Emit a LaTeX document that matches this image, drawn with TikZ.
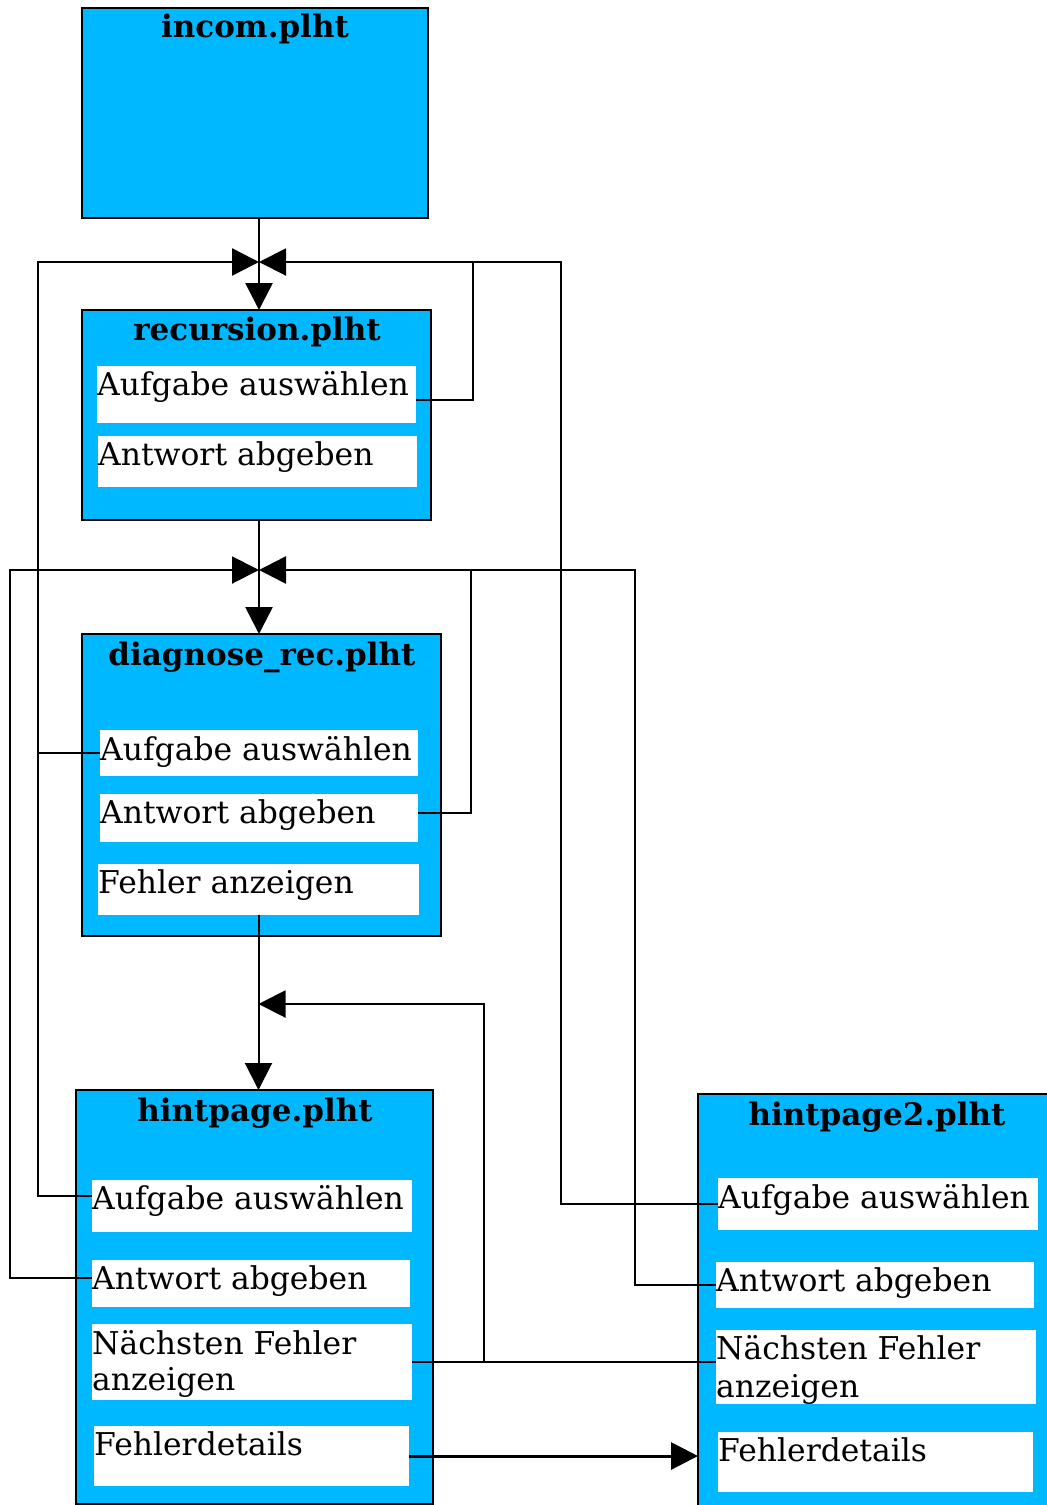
\documentclass[tikz,border=0pt]{standalone}
\usepackage{fontspec}
\setmainfont{DejaVu Serif}
\usetikzlibrary{arrows.meta,calc}
\definecolor{pageblue}{RGB}{0,184,255}
\tikzset{
  pagebox/.style={draw=black,line width=1.6pt,fill=pageblue,anchor=north west,inner sep=0pt,outer sep=0pt},
  itembox/.style={fill=white,anchor=north west,inner sep=0pt,outer sep=0pt},
  itemtext/.style={anchor=base west,inner sep=0pt,font=\fontsize{31.4}{37}\selectfont},
  titletext/.style={anchor=base,inner sep=0pt,font=\fontsize{31}{37}\selectfont\bfseries},
  conn/.style={line width=2.6pt},
  thin/.style={line width=2pt},
  arr/.style={-{Triangle[length=27pt,width=27pt]}},
}
\begin{document}
\begin{tikzpicture}[x=1pt,y=-1pt]
\useasboundingbox (0,0) rectangle (1047,1505);
% page boxes
\node[pagebox,minimum width=346pt,minimum height=210pt] (incom) at (82,8) {};
\node[pagebox,minimum width=349pt,minimum height=210pt] (rec) at (82,310) {};
\node[pagebox,minimum width=359pt,minimum height=302pt] (diag) at (82,634) {};
\node[pagebox,minimum width=357pt,minimum height=414pt] (hint) at (76,1090) {};
\node[pagebox,minimum width=370pt,minimum height=430pt] (hinttwo) at (698,1094) {};
% titles
\node[titletext] (tincom) at (255,37) {incom.plht};
\node[titletext] (trec) at (257,340) {recursion.plht};
\node[titletext] (tdiag) at (262,665) {diagnose\_rec.plht};
\node[titletext] (thint) at (255,1121) {hintpage.plht};
\node[titletext] (thinttwo) at (877,1125) {hintpage2.plht};
% white items
\node[itembox,minimum width=319pt,minimum height=57pt] (recA) at (97,366) {};
\node[itembox,minimum width=319pt,minimum height=51pt] (recB) at (98,436) {};
\node[itembox,minimum width=318pt,minimum height=46pt] (dgA) at (100,730) {};
\node[itembox,minimum width=318pt,minimum height=48pt] (dgB) at (100,794) {};
\node[itembox,minimum width=321pt,minimum height=51pt] (dgC) at (98,864) {};
\node[itembox,minimum width=320pt,minimum height=52pt] (hA) at (92,1180) {};
\node[itembox,minimum width=318pt,minimum height=47pt] (hB) at (92,1260) {};
\node[itembox,minimum width=320pt,minimum height=76pt] (hC) at (92,1324) {};
\node[itembox,minimum width=315pt,minimum height=60pt] (hD) at (94,1426) {};
\node[itembox,minimum width=320pt,minimum height=52pt] (htA) at (718,1178) {};
\node[itembox,minimum width=318pt,minimum height=46pt] (htB) at (716,1262) {};
\node[itembox,minimum width=320pt,minimum height=74pt] (htC) at (716,1330) {};
\node[itembox,minimum width=315pt,minimum height=60pt] (htD) at (718,1432) {};
% item texts
\node[itemtext] (trecA) at (97,395) {Aufgabe auswählen};
\node[itemtext] (trecB) at (98,465) {Antwort abgeben};
\node[itemtext] (tdgA) at (100,760) {Aufgabe auswählen};
\node[itemtext] (tdgB) at (100,823) {Antwort abgeben};
\node[itemtext] (tdgC) at (98,893) {Fehler anzeigen};
\node[itemtext] (thA) at (92,1209) {Aufgabe auswählen};
\node[itemtext] (thB) at (92,1289) {Antwort abgeben};
\node[itemtext] (thC) at (92,1354) {\vtop{\baselineskip=36pt\hbox{Nächsten Fehler}\hbox{anzeigen}}};
\node[itemtext] (thD) at (94,1455) {Fehlerdetails};
\node[itemtext] (thtA) at (718,1208) {Aufgabe auswählen};
\node[itemtext] (thtB) at (716,1291) {Antwort abgeben};
\node[itemtext] (thtC) at (716,1359) {\vtop{\baselineskip=38pt\hbox{Nächsten Fehler}\hbox{anzeigen}}};
\node[itemtext] (thtD) at (718,1461) {Fehlerdetails};
% junctions and corners
\coordinate (J1) at (259,262);
\coordinate (J2) at (259,570);
\coordinate (L1) at (38,262);
\coordinate (R1) at (561,262);
\coordinate (Q1) at (473,262);
\coordinate (L2) at (10,570);
\coordinate (R2) at (635,570);
\coordinate (Q2) at (471,570);
\coordinate (M) at (484,1004);
% connectors
\draw[conn,arr] (J1 |- incom.south) -- (J1 |- rec.north);
\draw[conn,arr] ($(hA.north west)+(0,16)$) -| (L1) -- (J1);
\draw[conn] (dgA.west) -- (dgA.west -| L1);
\draw[thin,arr] (htA.west) -| (R1) -- (J1);
\draw[conn] ($(recA.north east)+(0,34)$) -| (Q1);
\draw[conn,arr] (J2 |- rec.south) -- (J2 |- diag.north);
\draw[thin,arr] ($(hB.north west)+(0,18)$) -| (L2) -- (J2);
\draw[conn,arr] (htB.west) -| (R2) -- (J2);
\draw[conn] ($(dgB.north east)+(0,19)$) -| (Q2);
\draw[thin,arr] (dgC.south) -- (dgC.south |- hint.north);
\draw[thin] (hC.east) -- (hC.east -| htC.west);
\draw[thin,arr] (hC.east -| M) -- (M) -- (M -| dgC.south);
\draw[line width=3pt,arr] (hD.east) -- (hD.east -| hinttwo.west);
\end{tikzpicture}
\end{document}
